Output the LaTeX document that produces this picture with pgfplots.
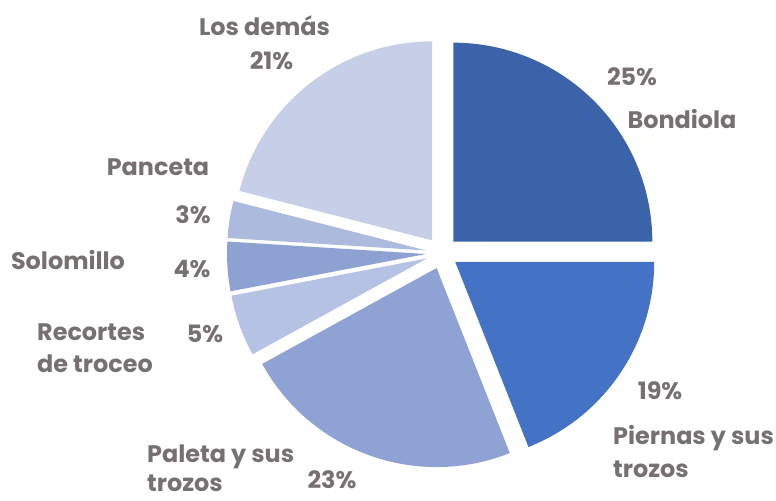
\documentclass[border=0pt]{standalone}
\usepackage{pgfplots}
\usepackage{pgfplotstable}
\pgfplotsset{compat=1.18}
\usepackage{fontspec}
\setmainfont{Poppins}
\definecolor{cA}{RGB}{59,99,170}
\definecolor{cB}{RGB}{68,114,196}
\definecolor{cC}{RGB}{143,162,212}
\definecolor{cD}{RGB}{182,194,228}
\definecolor{cE}{RGB}{141,161,210}
\definecolor{cF}{RGB}{172,186,222}
\definecolor{cG}{RGB}{198,206,232}
\definecolor{txt}{RGB}{118,113,113}
\tikzset{lbl/.style={font=\fontsize{24}{28}\selectfont\bfseries, text=txt, inner sep=0pt, text height=0.72em, text depth=0pt}}
\pgfplotstableread[col sep=comma]{
label,value,color
Bondiola,25,cA
Piernas,19,cB
Paleta,23,cC
Recortes,5,cD
Solomillo,4,cE
Panceta,3,cF
Demas,21,cG
}\piedata
\begin{document}
\begin{tikzpicture}
\begin{axis}[
  at={(0,0)}, anchor=south west,
  scale only axis, width=776bp, height=501bp,
  xmin=0, xmax=776, ymin=0, ymax=501,
  hide axis, clip=false,
]
\def\startang{90}
\pgfplotsforeachungrouped \i in {0,...,6}{%
  \pgfplotstablegetelem{\i}{value}\of\piedata \let\v\pgfplotsretval
  \pgfplotstablegetelem{\i}{color}\of\piedata \let\c\pgfplotsretval
  \pgfmathsetmacro\endang{\startang-3.6*\v}%
  \pgfmathsetmacro\midang{(\startang+\endang)/2}%
  \pgfmathsetmacro\cx{442+16*cos(\midang)}%
  \pgfmathsetmacro\cy{248+16*sin(\midang)}%
  \edef\temp{\noexpand\fill[\c] (axis cs:\cx,\cy) -- ++(\startang:199bp) arc[start angle=\startang, end angle=\endang, radius=199bp] -- cycle;}%
  \temp
  \global\let\startang\endang
}
\node[lbl] at (axis cs:632,419) {25\%};
\node[lbl] at (axis cs:682,376) {Bondiola};
\node[lbl] at (axis cs:264.5,469) {Los demás};
\node[lbl] at (axis cs:271.5,435) {21\%};
\node[lbl] at (axis cs:158,329) {Panceta};
\node[lbl] at (axis cs:193,281) {3\%};
\node[lbl] at (axis cs:68,235) {Solomillo};
\node[lbl] at (axis cs:192,227) {4\%};
\node[lbl,anchor=west] at (axis cs:37,164) {Recortes};
\node[lbl,anchor=west] at (axis cs:37,132) {de troceo};
\node[lbl] at (axis cs:205,162) {5\%};
\node[lbl,anchor=west] at (axis cs:147,42) {Paleta y sus};
\node[lbl,anchor=west] at (axis cs:147,13) {trozos};
\node[lbl] at (axis cs:332,16) {23\%};
\node[lbl] at (axis cs:660,105) {19\%};
\node[lbl,anchor=west] at (axis cs:613,60) {Piernas y sus};
\node[lbl,anchor=west] at (axis cs:613,27) {trozos};
\end{axis}
\pgfresetboundingbox
\path (0,0) rectangle (776bp,501bp);
\end{tikzpicture}
\end{document}
